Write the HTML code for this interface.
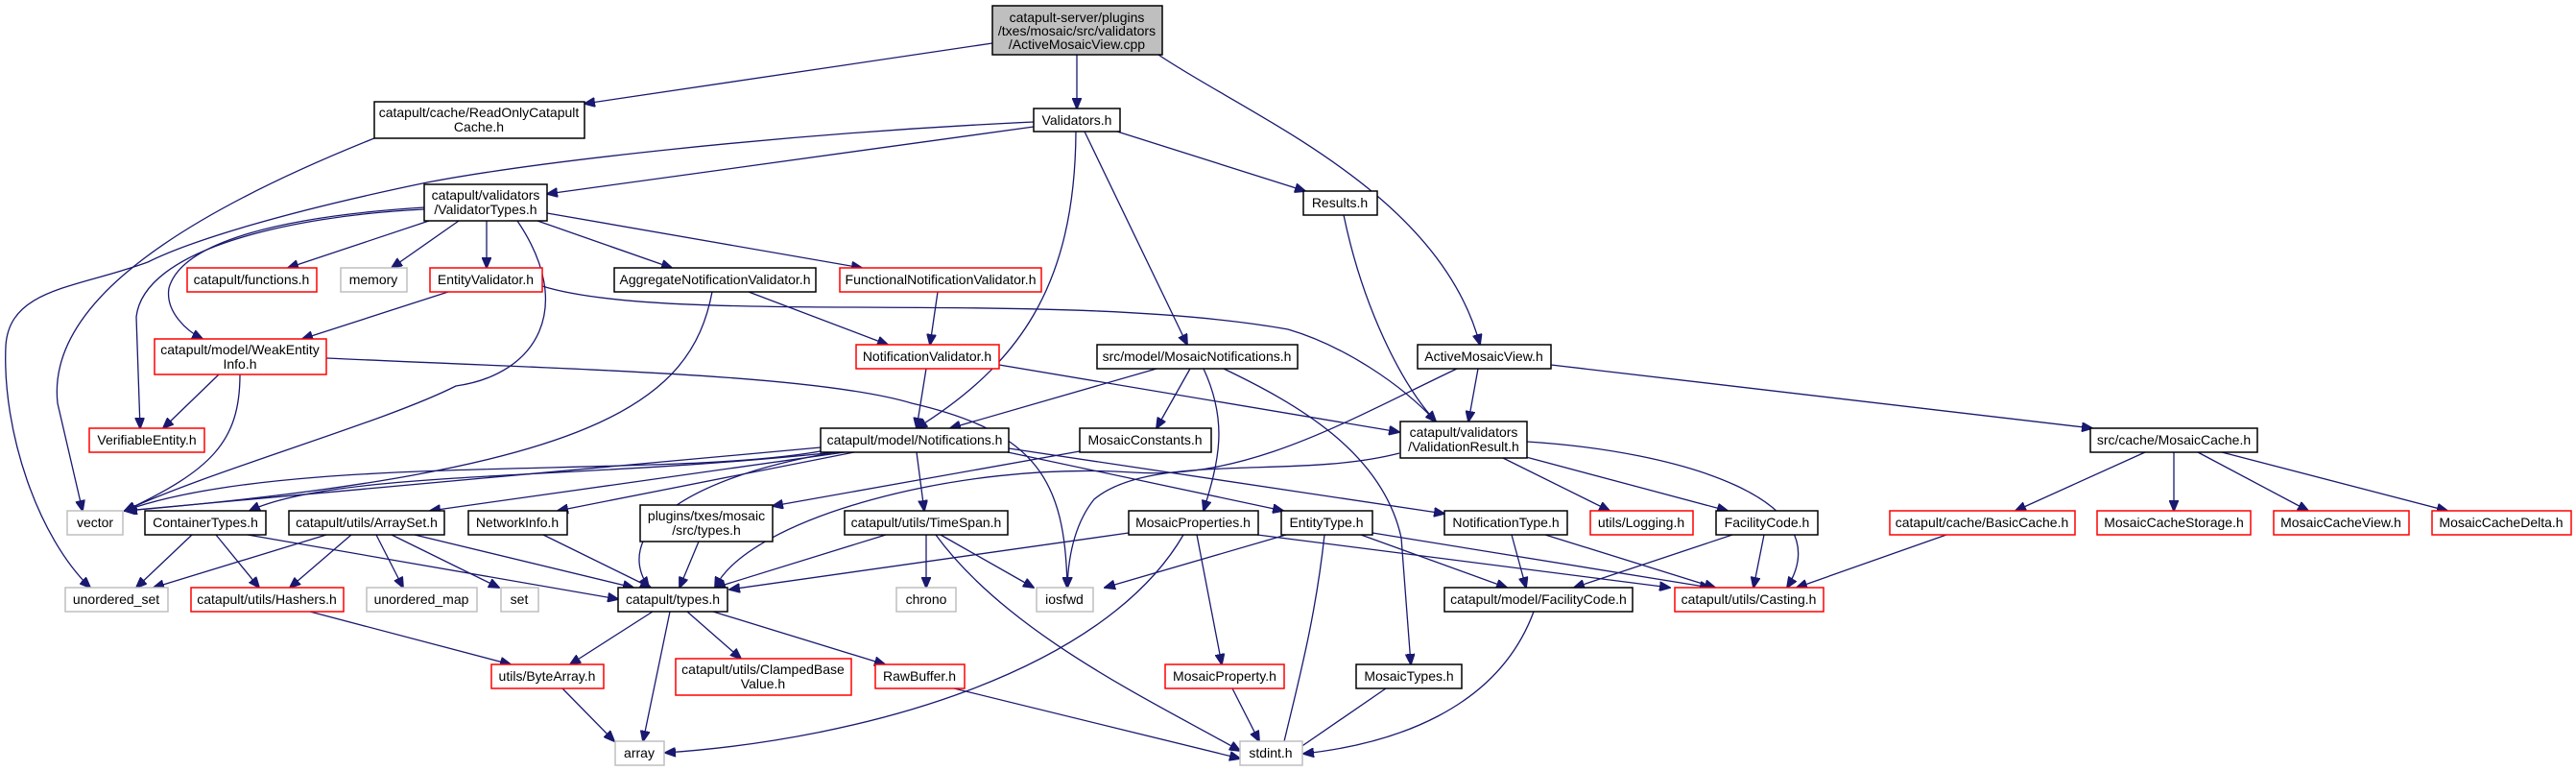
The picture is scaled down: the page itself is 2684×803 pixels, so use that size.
<!DOCTYPE html>
<html><head><meta charset="utf-8"><style>
html,body{margin:0;padding:0;background:#fff;}
svg{display:block;}
text{font-family:"Liberation Sans",Arial,sans-serif;font-size:14px;text-anchor:middle;fill:#000;}
.e{fill:none;stroke:#191970;stroke-width:1.3;}
.n{fill:#fff;stroke:#000;stroke-width:1.5;}
.r{fill:#fff;stroke:#ff0000;stroke-width:1.5;}
.g{fill:#fff;stroke:#bfbfbf;stroke-width:1.5;}
</style></head><body>
<svg width="2684" height="803" viewBox="0 0 2684 803" xmlns="http://www.w3.org/2000/svg">
<defs><marker id="a" markerUnits="userSpaceOnUse" markerWidth="12" markerHeight="10" refX="11" refY="5" orient="auto"><path d="M0,0 L12,5 L0,10 z" fill="#191970" stroke="#191970"/></marker></defs>
<g class="e" marker-end="url(#a)">
<path d="M1034,45 L609,108"/>
<path d="M1122,57 L1122,113"/>
<path d="M1207,57 C1300,120 1500,200 1542,359"/>
<path d="M390,144 C150,240 50,330 60,420 L86,532"/>
<path d="M1077,132 L570,202"/>
<path d="M1077,127 C800,140 550,170 445,190 C300,220 200,250 154,273 C80,300 10,300 6,360 C2,450 40,560 94,612"/>
<path d="M1164,137 L1360,199"/>
<path d="M1121,137 C1120,300 1060,380 955,446"/>
<path d="M1130,137 L1237,359"/>
<path d="M1400,224 C1420,320 1460,400 1496,439"/>
<path d="M447,230 L300,279"/>
<path d="M478,230 L408,279"/>
<path d="M507,230 L507,279"/>
<path d="M560,230 L700,279"/>
<path d="M570,222 L898,279"/>
<path d="M442,216 C300,225 190,250 176,300 C172,325 195,345 211,353"/>
<path d="M442,218 C300,225 150,260 142,330 L146,446"/>
<path d="M539,230 C600,320 560,390 475,402 C400,440 220,490 130,532"/>
<path d="M467,304 L315,353"/>
<path d="M565,298 C700,340 1100,300 1342,343 C1400,360 1460,400 1496,439"/>
<path d="M780,304 L925,359"/>
<path d="M742,304 C720,420 620,490 132,532"/>
<path d="M977,304 L969,359"/>
<path d="M228,390 L170,446"/>
<path d="M250,390 C250,460 220,490 130,532"/>
<path d="M340,373 C600,385 850,390 950,420 C1080,450 1110,500 1112,612"/>
<path d="M965,384 L955,446"/>
<path d="M1041,380 L1458,450"/>
<path d="M1205,384 L990,446"/>
<path d="M1240,384 L1205,446"/>
<path d="M1254,384 C1280,440 1270,480 1254,532"/>
<path d="M1275,384 C1350,420 1440,470 1460,560 L1470,692"/>
<path d="M1540,384 L1530,439"/>
<path d="M1518,384 C1400,440 1300,500 1180,492 C1000,480 780,540 745,612"/>
<path d="M1616,380 L2180,446"/>
<path d="M1566,477 L1677,532"/>
<path d="M1590,476 L1800,532"/>
<path d="M1591,460 C1750,470 1920,520 1862,612"/>
<path d="M1458,472 C1350,500 1200,470 1140,520 C1120,545 1113,580 1112,612"/>
<path d="M2235,471 L2100,532"/>
<path d="M2265,471 L2265,532"/>
<path d="M2290,471 L2405,532"/>
<path d="M2315,471 L2550,532"/>
<path d="M2028,557 L1872,612"/>
<path d="M1805,557 L1640,612"/>
<path d="M1838,557 L1827,612"/>
<path d="M1575,557 L1590,612"/>
<path d="M1610,557 L1787,612"/>
<path d="M1418,557 L1570,612"/>
<path d="M1430,555 L1782,612"/>
<path d="M1380,557 C1370,650 1350,720 1335,785"/>
<path d="M1340,557 L1151,612"/>
<path d="M1176,555 L760,614"/>
<path d="M1310,557 L1740,612"/>
<path d="M1247,557 L1273,692"/>
<path d="M1233,557 C1150,700 900,770 693,784"/>
<path d="M1284,717 L1312,772"/>
<path d="M1444,717 L1345,785"/>
<path d="M1598,637 C1560,740 1450,775 1358,785"/>
<path d="M994,717 L1292,790"/>
<path d="M923,557 L745,612"/>
<path d="M965,557 L965,612"/>
<path d="M980,557 L1077,612"/>
<path d="M975,557 C1050,660 1200,730 1292,782"/>
<path d="M855,466 L130,532"/>
<path d="M860,469 C700,500 300,470 130,532"/>
<path d="M870,471 C600,500 350,490 260,532"/>
<path d="M880,471 L448,532"/>
<path d="M890,471 L581,532"/>
<path d="M870,471 C700,500 640,560 676,612"/>
<path d="M955,471 L963,532"/>
<path d="M1050,471 L1337,532"/>
<path d="M1051,467 L1505,535"/>
<path d="M1125,470 L805,527"/>
<path d="M200,557 L142,612"/>
<path d="M225,557 L270,612"/>
<path d="M258,557 L644,624"/>
<path d="M340,557 L160,612"/>
<path d="M366,557 L302,612"/>
<path d="M392,557 L420,612"/>
<path d="M408,557 L520,612"/>
<path d="M432,557 L660,612"/>
<path d="M566,557 L678,612"/>
<path d="M728,564 L708,612"/>
<path d="M680,637 L594,692"/>
<path d="M698,637 L670,772"/>
<path d="M716,637 L772,686"/>
<path d="M743,637 L922,692"/>
<path d="M323,637 L532,692"/>
<path d="M586,717 L640,772"/>
</g>
<rect x="1034" y="6" width="177" height="51" fill="#bfbfbf" stroke="#000" stroke-width="1.5"/>
<text x="1122" y="23">catapult-server/plugins</text><text x="1122" y="37">/txes/mosaic/src/validators</text><text x="1122" y="51">/ActiveMosaicView.cpp</text>
<rect class="n" x="390" y="106" width="219" height="38"/><text x="499" y="122">catapult/cache/ReadOnlyCatapult</text><text x="499" y="137">Cache.h</text>
<rect class="n" x="1077" y="113" width="90" height="24"/><text x="1122" y="130">Validators.h</text>
<rect class="n" x="442" y="192" width="128" height="38"/><text x="506" y="208">catapult/validators</text><text x="506" y="223">/ValidatorTypes.h</text>
<rect class="r" x="195" y="279" width="135" height="25"/><text x="262" y="296">catapult/functions.h</text>
<rect class="g" x="355" y="279" width="69" height="25"/><text x="389" y="296">memory</text>
<rect class="r" x="448" y="279" width="117" height="25"/><text x="506" y="296">EntityValidator.h</text>
<rect class="n" x="640" y="279" width="210" height="25"/><text x="745" y="296">AggregateNotificationValidator.h</text>
<rect class="r" x="875" y="279" width="210" height="25"/><text x="980" y="296">FunctionalNotificationValidator.h</text>
<rect class="n" x="1358" y="199" width="77" height="25"/><text x="1396" y="216">Results.h</text>
<rect class="r" x="161" y="353" width="179" height="37"/><text x="250" y="369">catapult/model/WeakEntity</text><text x="250" y="384">Info.h</text>
<rect class="r" x="892" y="359" width="149" height="25"/><text x="966" y="376">NotificationValidator.h</text>
<rect class="n" x="1143" y="359" width="209" height="25"/><text x="1247" y="376">src/model/MosaicNotifications.h</text>
<rect class="n" x="1477" y="359" width="139" height="25"/><text x="1546" y="376">ActiveMosaicView.h</text>
<rect class="r" x="93" y="446" width="120" height="25"/><text x="153" y="463">VerifiableEntity.h</text>
<rect class="n" x="855" y="446" width="196" height="25"/><text x="953" y="463">catapult/model/Notifications.h</text>
<rect class="n" x="1125" y="446" width="137" height="25"/><text x="1193" y="463">MosaicConstants.h</text>
<rect class="n" x="1459" y="439" width="132" height="38"/><text x="1525" y="455">catapult/validators</text><text x="1525" y="470">/ValidationResult.h</text>
<rect class="n" x="2178" y="446" width="174" height="25"/><text x="2265" y="463">src/cache/MosaicCache.h</text>
<rect class="g" x="70" y="532" width="58" height="25"/><text x="99" y="549">vector</text>
<rect class="n" x="151" y="532" width="126" height="25"/><text x="214" y="549">ContainerTypes.h</text>
<rect class="n" x="301" y="532" width="162" height="25"/><text x="382" y="549">catapult/utils/ArraySet.h</text>
<rect class="n" x="488" y="532" width="103" height="25"/><text x="539" y="549">NetworkInfo.h</text>
<rect class="n" x="667" y="526" width="138" height="38"/><text x="736" y="542">plugins/txes/mosaic</text><text x="736" y="557">/src/types.h</text>
<rect class="n" x="880" y="532" width="170" height="25"/><text x="965" y="549">catapult/utils/TimeSpan.h</text>
<rect class="n" x="1176" y="532" width="135" height="25"/><text x="1243" y="549">MosaicProperties.h</text>
<rect class="n" x="1335" y="532" width="95" height="25"/><text x="1382" y="549">EntityType.h</text>
<rect class="n" x="1505" y="532" width="128" height="25"/><text x="1569" y="549">NotificationType.h</text>
<rect class="r" x="1657" y="532" width="107" height="25"/><text x="1710" y="549">utils/Logging.h</text>
<rect class="n" x="1788" y="532" width="106" height="25"/><text x="1841" y="549">FacilityCode.h</text>
<rect class="r" x="1969" y="532" width="193" height="25"/><text x="2065" y="549">catapult/cache/BasicCache.h</text>
<rect class="r" x="2185" y="532" width="160" height="25"/><text x="2265" y="549">MosaicCacheStorage.h</text>
<rect class="r" x="2369" y="532" width="141" height="25"/><text x="2439" y="549">MosaicCacheView.h</text>
<rect class="r" x="2534" y="532" width="145" height="25"/><text x="2606" y="549">MosaicCacheDelta.h</text>
<rect class="g" x="68" y="612" width="107" height="25"/><text x="121" y="629">unordered_set</text>
<rect class="r" x="199" y="612" width="159" height="25"/><text x="278" y="629">catapult/utils/Hashers.h</text>
<rect class="g" x="382" y="612" width="115" height="25"/><text x="439" y="629">unordered_map</text>
<rect class="g" x="522" y="612" width="39" height="25"/><text x="541" y="629">set</text>
<rect class="n" x="644" y="612" width="114" height="25"/><text x="701" y="629">catapult/types.h</text>
<rect class="g" x="934" y="612" width="62" height="25"/><text x="965" y="629">chrono</text>
<rect class="g" x="1080" y="612" width="59" height="25"/><text x="1109" y="629">iosfwd</text>
<rect class="n" x="1505" y="612" width="196" height="25"/><text x="1603" y="629">catapult/model/FacilityCode.h</text>
<rect class="r" x="1745" y="612" width="155" height="25"/><text x="1822" y="629">catapult/utils/Casting.h</text>
<rect class="r" x="512" y="692" width="117" height="25"/><text x="570" y="709">utils/ByteArray.h</text>
<rect class="r" x="704" y="686" width="183" height="38"/><text x="795" y="702">catapult/utils/ClampedBase</text><text x="795" y="717">Value.h</text>
<rect class="r" x="912" y="692" width="93" height="25"/><text x="958" y="709">RawBuffer.h</text>
<rect class="r" x="1214" y="692" width="124" height="25"/><text x="1276" y="709">MosaicProperty.h</text>
<rect class="n" x="1413" y="692" width="110" height="25"/><text x="1468" y="709">MosaicTypes.h</text>
<rect class="g" x="641" y="772" width="51" height="25"/><text x="666" y="789">array</text>
<rect class="g" x="1292" y="772" width="65" height="25"/><text x="1324" y="789">stdint.h</text>
</svg>
</body></html>
